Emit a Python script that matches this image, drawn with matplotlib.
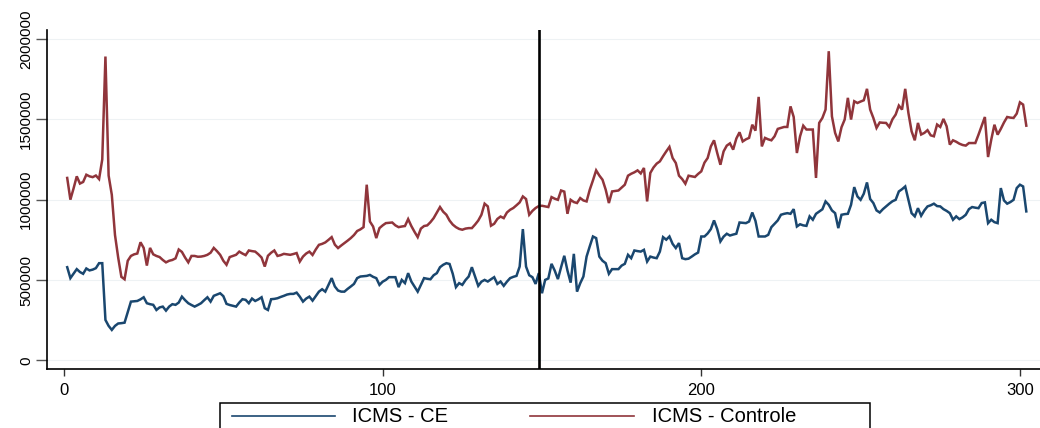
import matplotlib
matplotlib.use("Agg")
import matplotlib.pyplot as plt
from matplotlib.lines import Line2D
from matplotlib.patches import Rectangle
import numpy as np

# Series values (thousands), x = 1..302
icms_controle = [
    1135, 1000, 1070, 1145, 1100, 1110, 1155, 1145, 1140, 1150,
    1128, 1250, 1890, 1150, 1030, 780, 640, 520, 505, 620,
    650, 660, 665, 735, 700, 590, 700, 660, 650, 643,
    625, 610, 620, 625, 635, 690, 675, 640, 610, 650,
    650, 645, 646, 650, 657, 670, 700, 680, 657, 620,
    595, 643, 650, 657, 677, 665, 655, 684, 680, 677,
    660, 640, 584, 651, 670, 684, 650, 655, 663, 660,
    657, 662, 668, 615, 646, 665, 677, 656, 690, 719,
    725, 734, 750, 767, 720, 699, 715, 730, 745, 761,
    780, 805, 815, 829, 1093, 864, 833, 761, 823, 840,
    854, 856, 858, 840, 829, 833, 836, 879, 836, 800,
    767, 820, 836, 840, 860, 885, 920, 954, 925, 906,
    870, 845, 829, 818, 813, 820, 823, 823, 845, 870,
    906, 975, 958, 838, 850, 880, 895, 885, 920, 937,
    948, 965, 983, 1020, 1004, 906, 930, 948, 960, 962,
    958, 954, 1016, 1006, 999, 1057, 1050, 912, 999, 985,
    979, 1010, 995, 989, 1062, 1120, 1182, 1150, 1124, 1062,
    979, 1051, 1054, 1057, 1075, 1093, 1149, 1161, 1170, 1182,
    1163, 1197, 989, 1166, 1200, 1224, 1238, 1270, 1300, 1328,
    1259, 1228, 1149, 1128, 1099, 1149, 1145, 1141, 1160, 1176,
    1230, 1259, 1331, 1369, 1290, 1217, 1300, 1336, 1350, 1311,
    1380, 1419, 1362, 1375, 1384, 1466, 1429, 1639, 1331, 1384,
    1375, 1369, 1394, 1440, 1446, 1452, 1452, 1580, 1514, 1290,
    1394, 1460, 1436, 1436, 1436, 1135, 1477, 1508, 1560, 1923,
    1518, 1415, 1362, 1450, 1498, 1633, 1498, 1612, 1601, 1610,
    1618, 1689, 1560, 1508, 1446, 1480, 1478, 1477, 1452, 1500,
    1529, 1585, 1560, 1689, 1539, 1425, 1369, 1477, 1405, 1415,
    1432, 1400, 1394, 1467, 1452, 1502, 1456, 1342, 1369, 1360,
    1348, 1340, 1336, 1352, 1352, 1352, 1404, 1460, 1514, 1265,
    1373, 1466, 1404, 1440, 1480, 1514, 1510, 1508, 1535, 1605,
    1591, 1460,
]

icms_ce = [
    580, 512, 540, 568, 550, 539, 572, 560, 565, 574,
    605, 605, 252, 215, 190, 215, 230, 232, 235, 300,
    366, 368, 370, 380, 393, 356, 350, 346, 314, 330,
    335, 310, 335, 350, 346, 360, 397, 375, 356, 345,
    335, 345, 356, 375, 393, 366, 402, 410, 418, 400,
    352, 345, 340, 335, 360, 381, 377, 356, 385, 370,
    380, 393, 325, 314, 381, 383, 387, 395, 402, 410,
    414, 414, 422, 397, 366, 385, 397, 372, 400, 428,
    443, 428, 470, 512, 460, 435, 428, 428, 445, 460,
    476, 512, 522, 524, 526, 532, 520, 512, 470, 490,
    501, 518, 518, 518, 456, 501, 481, 543, 491, 460,
    428, 470, 512, 508, 505, 530, 543, 580, 595, 605,
    600, 539, 456, 481, 470, 500, 522, 580, 522, 464,
    490, 501, 491, 505, 518, 476, 491, 464, 490, 512,
    520, 526, 584, 817, 584, 530, 518, 476, 543, 418,
    501, 510, 601, 559, 506, 580, 651, 559, 484, 663,
    428, 480, 522, 646, 710, 771, 761, 646, 620, 605,
    539, 568, 568, 568, 590, 601, 657, 636, 684, 680,
    677, 688, 615, 646, 640, 636, 677, 767, 751, 771,
    725, 699, 730, 636, 630, 633, 646, 660, 671, 771,
    771, 790, 817, 871, 817, 740, 770, 788, 777, 783,
    788, 858, 856, 854, 864, 920, 868, 771, 771, 771,
    781, 829, 850, 871, 906, 912, 916, 912, 941, 833,
    847, 840, 837, 896, 875, 912, 926, 940, 989, 968,
    933, 916, 823, 906, 910, 912, 968, 1078, 1020, 999,
    1037, 1107, 1004, 979, 933, 920, 941, 958, 975, 990,
    999, 1051, 1065, 1082, 999, 916, 896, 947, 900, 933,
    958, 965, 975, 960, 958, 941, 930, 916, 875, 896,
    879, 890, 906, 941, 954, 950, 947, 979, 983, 854,
    875, 860, 854, 1072, 995, 975, 985, 999, 1072, 1093,
    1082, 927,
]

periods = list(range(1, len(icms_ce) + 1))
series_labels = ["ICMS - CE", "ICMS - Controle"]
x_ticks = [0, 100, 200, 300]
y_ticks = [0, 500000, 1000000, 1500000, 2000000]
y_tick_labels = ["0", "500000", "1000000", "1500000", "2000000"]
event_x = 149

plt.rcParams["font.family"] = ["Liberation Sans", "DejaVu Sans"]

blue = "#1a476f"
red = "#90353b"
W, H = 1040, 428

fig = plt.figure(figsize=(10.4, 4.28), dpi=100)
ax = fig.add_axes([47 / W, 59 / H, 993 / W, 339.5 / H])

ce = np.array(icms_ce) * 1000
ctrl = np.array(icms_controle) * 1000
ax.plot(periods, ce, color=blue, lw=1.8, solid_joinstyle="miter")
ax.plot(periods, ctrl, color=red, lw=1.8, solid_joinstyle="miter")
ax.axvline(event_x, color="black", lw=1.9)

ax.set_xlim(-5.34, 306.3)
ax.set_ylim(-53000, 2058000)

ax.set_yticks(y_ticks)
ax.set_yticklabels(y_tick_labels, rotation=90, va="center")
ax.set_xticks(x_ticks)
ax.set_xticklabels([str(t) for t in x_ticks])

ax.tick_params(axis="y", length=8, width=1, pad=2, labelsize=11, color="#555555")
ax.tick_params(axis="x", length=5, width=1, pad=5, labelsize=12, color="#333333")

for s in ["top", "right"]:
    ax.spines[s].set_visible(False)
for s in ["left", "bottom"]:
    ax.spines[s].set_color("black")
    ax.spines[s].set_linewidth(1.2)

ax.grid(axis="y", color="#eef2f4", lw=0.8)
ax.set_axisbelow(True)

# Legend drawn in figure pixel coordinates (box extends past the bottom edge)
def fx(p):
    return p / W

def fy(p):
    return 1 - p / H

box_top = 403
fig.add_artist(Rectangle((fx(220), fy(440)), fx(870) - fx(220), fy(box_top) - fy(440),
                         transform=fig.transFigure, fill=False, ec="black", lw=1.1))
row_y = 416
entries = [(232, 335, 352, blue, series_labels[0]),
           (530, 634, 652, red, series_labels[1])]
for x0, x1, tx, col, lab in entries:
    fig.add_artist(Line2D([fx(x0), fx(x1)], [fy(row_y), fy(row_y)],
                          transform=fig.transFigure, color=col, lw=1.2))
    fig.text(fx(tx), fy(row_y), lab, ha="left", va="center", fontsize=14.5)

fig.savefig("out.png", dpi=100)
